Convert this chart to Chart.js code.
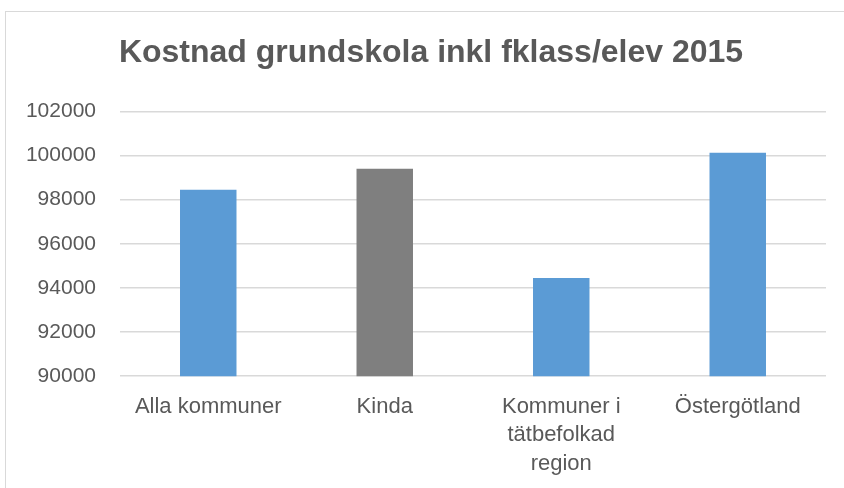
<!DOCTYPE html>
<html>
<head>
<meta charset="utf-8">
<script src="https://cdn.jsdelivr.net/npm/chart.js@4"></script>
<style>
  html, body { margin: 0; padding: 0; background: #fff; overflow: hidden; width: 844px; height: 488px; }
  #ram {
    position: absolute; left: 5px; top: 11px;
    width: 860px; height: 490px;
    border-left: 1px solid #d9d9d9; border-top: 1px solid #d9d9d9;
  }
  #wrap { position: absolute; left: 0; top: 0; width: 852px; height: 482px; }
</style>
</head>
<body>
<div id="ram"><div id="wrap"><canvas id="myChart"></canvas></div></div>
<script>
  // Data
  const kategorier = ['Alla kommuner', 'Kinda', ['Kommuner i', 'tätbefolkad', 'region'], 'Östergötland'];
  const kostnad = [98450, 99400, 94450, 100130];
  const yTicks = [90000, 92000, 94000, 96000, 98000, 100000, 102000];
  const titel = 'Kostnad grundskola inkl fklass/elev 2015';

  const bla = '#5b9bd5';
  const gra = '#7f7f7f';
  const farger = [bla, gra, bla, bla];

  const data = {
    labels: kategorier,
    datasets: [{
      data: kostnad,
      backgroundColor: farger,
      borderWidth: 0,
      barPercentage: 0.32,
      categoryPercentage: 1
    }]
  };

  const options = {
    responsive: true,
    maintainAspectRatio: false,
    animation: false,
    layout: { padding: { left: 10, right: 12, top: 22, bottom: 0 } },
    plugins: {
      legend: { display: false },
      tooltip: { enabled: false },
      title: {
        display: true,
        text: titel,
        color: '#595959',
        font: { family: 'Liberation Sans', size: 32, weight: 'bold' },
        padding: { top: 0, bottom: 39 }
      }
    },
    scales: {
      x: {
        grid: { display: false, drawTicks: false },
        border: { display: false },
        ticks: {
          color: '#595959',
          font: { family: 'Liberation Sans', size: 22, lineHeight: 1.3 },
          padding: 16,
          maxRotation: 0,
          autoSkip: false
        }
      },
      y: {
        min: yTicks[0],
        max: yTicks[yTicks.length - 1],
        afterBuildTicks: function(scale) {
          scale.ticks = yTicks.map(function(v) { return { value: v }; });
        },
        afterFit: function(scale) { scale.width = 104; },
        grid: { color: '#d9d9d9', lineWidth: 1.5, drawTicks: false },
        border: { display: false },
        ticks: {
          color: '#595959',
          font: { family: 'Liberation Sans', size: 21 },
          padding: 24,
          callback: function(v) { return String(v); }
        }
      },
      // tom axel till höger, bara för att lämna luft som i Excel
      hoger: {
        type: 'linear',
        position: 'right',
        grid: { display: false, drawTicks: false },
        border: { display: false },
        ticks: { display: false },
        afterFit: function(scale) { scale.width = 20; }
      }
    }
  };

  const ctx = document.getElementById('myChart').getContext('2d');
  const myChart = new Chart(ctx, { type: 'bar', data: data, options: options });
</script>
</body>
</html>
